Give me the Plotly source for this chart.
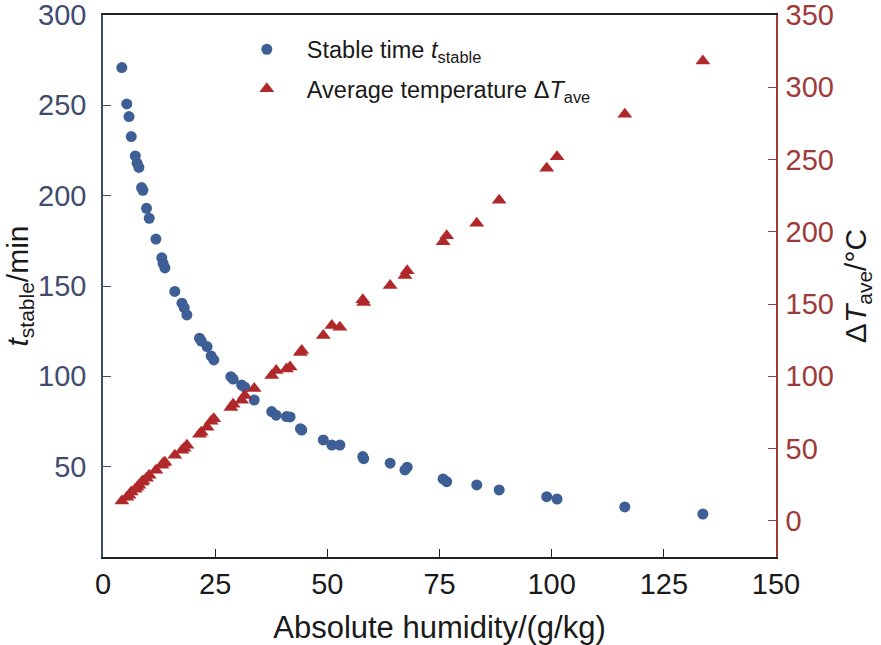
import plotly.graph_objects as go

humidity = [4.2, 5.3, 5.8, 6.3, 7.2, 7.6, 8.0, 8.6, 8.9, 9.7, 10.3, 11.8, 13.1, 13.4, 13.8,
            16.0, 17.6, 18.1, 18.7, 21.5, 21.9, 23.2, 24.1, 24.7, 28.5, 29.0, 30.9, 31.6, 33.7,
            37.6, 38.6, 40.9, 41.7, 44.0, 44.3, 49.1, 51.0, 52.8, 57.9, 58.1, 64.0, 67.3, 67.8,
            75.8, 76.6, 83.3, 88.3, 98.9, 101.2, 116.3, 133.7]
t_stable = [270.9, 250.8, 243.8, 232.7, 222.0, 218.0, 215.6, 204.5, 203.0, 193.0, 187.5, 176.0,
            165.6, 162.5, 160.0, 147.0, 140.5, 138.0, 134.0, 121.1, 119.5, 116.5, 111.3, 109.1,
            99.8, 98.5, 95.2, 94.0, 86.9, 80.5, 78.5, 77.7, 77.5, 71.0, 70.3, 64.8, 62.0, 62.0,
            55.6, 54.4, 51.9, 48.2, 49.7, 43.2, 41.7, 39.9, 37.1, 33.4, 32.1, 27.7, 23.8]
dT_ave = [13.7, 16.4, 17.8, 19.9, 21.9, 23.3, 24.7, 26.8, 27.5, 29.5, 31.6, 35.1, 38.5, 39.9,
          40.6, 45.4, 48.9, 50.2, 52.3, 59.9, 61.3, 64.7, 68.9, 70.7, 78.5, 80.6, 83.4, 86.8,
          91.5, 100.6, 104.1, 105.0, 106.4, 116.5, 117.9, 128.3, 135.2, 134.0, 153.0, 151.0,
          162.8, 169.7, 173.1, 193.1, 197.3, 205.9, 221.9, 244.0, 252.0, 281.3, 318.1]

x_ticks = [0, 25, 50, 75, 100, 125, 150]
left_ticks = [50, 100, 150, 200, 250, 300]
right_ticks = [0, 50, 100, 150, 200, 250, 300, 350]

BLUE = "#3d5f96"
RED = "#b0282a"
BLUE_AX = "#3f4c70"
RED_AX = "#9e3a3a"
FONT = "Liberation Sans, Arial, sans-serif"

fig = go.Figure()
fig.add_trace(go.Scatter(
    x=humidity, y=t_stable, mode="markers", name="Stable time <i>t</i><sub>stable</sub>",
    legendgroup="a",
    marker=dict(symbol="circle", size=11, color=BLUE, line=dict(width=0)),
    yaxis="y"))
fig.add_trace(go.Scatter(
    x=humidity, y=dT_ave, mode="markers", name="Average temperature Δ<i>T</i><sub>ave</sub>",
    legendgroup="b",
    marker=dict(symbol="triangle-up", size=13, color=RED, line=dict(width=0)),
    yaxis="y2"))

fig.update_layout(
    width=881, height=645,
    margin=dict(l=103, r=105, t=15, b=88),
    paper_bgcolor="white", plot_bgcolor="white",
    font=dict(family=FONT, size=29, color="#1a1a1a"),
    xaxis=dict(range=[0, 150], tickvals=x_ticks, ticks="inside", ticklen=8, tickcolor="#222",
               showline=True, linecolor="#222", linewidth=1.5, mirror=True, showgrid=False,
               zeroline=False, automargin=False, ticklabeloverflow="allow",
               tickfont=dict(size=29, color="#1a1a1a"),
               title=dict(text="Absolute humidity/(g/kg)", font=dict(size=31), standoff=19)),
    yaxis=dict(range=[0, 300], tickvals=left_ticks, ticks="inside", ticklen=8, tickcolor=BLUE_AX,
               showline=True, linecolor=BLUE_AX, linewidth=1.5, showgrid=False, zeroline=False,
               automargin=False, ticklabeloverflow="allow",
               tickfont=dict(size=29, color=BLUE_AX), ticklabelstandoff=9,
               title=dict(text="<i>t</i><sub>stable</sub>/min", font=dict(size=30, color="#1a1a1a"), standoff=0)),
    yaxis2=dict(range=[-25, 350], tickvals=right_ticks, ticks="inside", ticklen=8, tickcolor=RED_AX,
                overlaying="y", side="right", showline=True, linecolor=RED_AX, linewidth=1.5,
                showgrid=False, zeroline=False, automargin=False, ticklabeloverflow="allow",
                tickfont=dict(size=29, color=RED_AX), ticklabelstandoff=2,
                title=dict(text="Δ<i>T</i><sub>ave</sub>/°C", font=dict(size=30, color="#1a1a1a"), standoff=12)),
    legend=dict(x=0.184, y=0.977, xanchor="left", yanchor="top", bgcolor="rgba(0,0,0,0)",
                font=dict(size=23.5, color="#1a1a1a"), itemwidth=70, tracegroupgap=6),
)

fig.write_html("out.html", config={"displayModeBar": False},
               post_script="document.body.style.margin='0';")
